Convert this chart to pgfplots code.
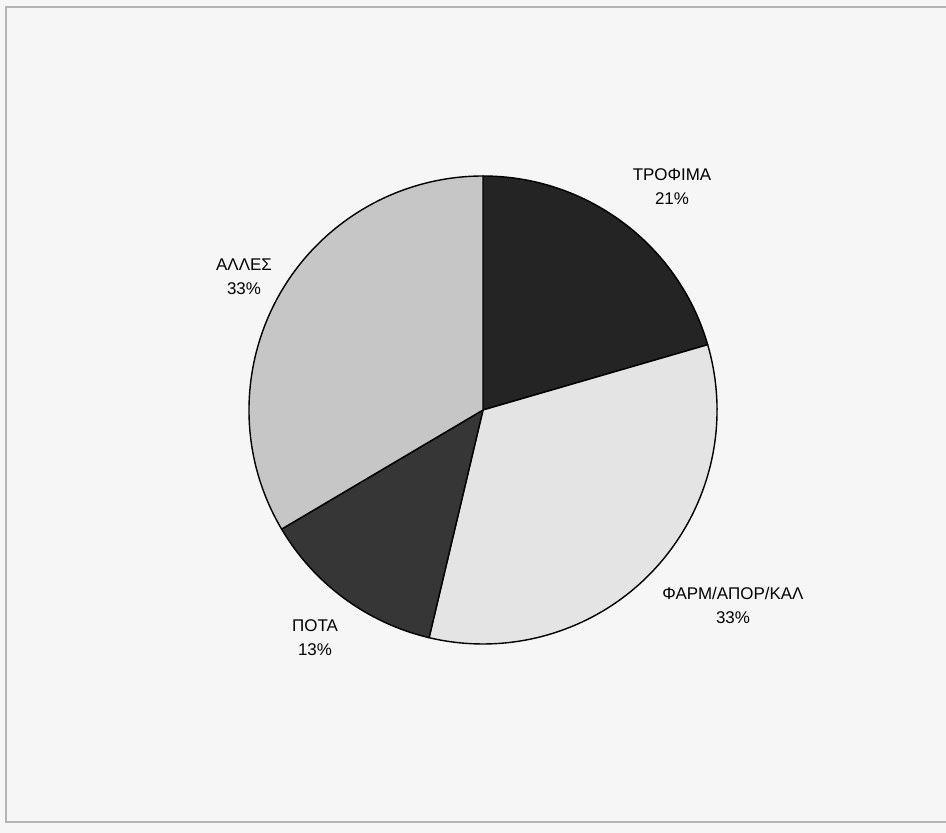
\documentclass[border=0pt]{standalone}
\usepackage{pgfplots}
\pgfplotsset{compat=1.18}
\usepackage{pgfplotstable}
\usepackage{fontspec}
\setmainfont{Liberation Sans}
\definecolor{bg}{HTML}{F6F6F6}
\definecolor{frame}{HTML}{B4B4B4}
\definecolor{cA}{HTML}{242424}
\definecolor{cB}{HTML}{E4E4E4}
\definecolor{cC}{HTML}{363636}
\definecolor{cD}{HTML}{C6C6C6}
\pgfplotstableread[col sep=comma]{
label,value,pct,col,lx,ly
ΤΡΟΦΙΜΑ,20.5,21,cA,672,187
ΦΑΡΜ/ΑΠΟΡ/ΚΑΛ,33.2,33,cB,733,605
ΠΟΤΑ,12.8,13,cC,315,638
ΑΛΛΕΣ,33.5,33,cD,244,277
}\piedata
\begin{document}
\begin{tikzpicture}
\begin{axis}[
  width=946bp, height=833bp, scale only axis,
  xmin=0, xmax=946, ymin=0, ymax=833,
  hide axis,
]
\fill[bg] (axis cs:0,0) rectangle (axis cs:946,833);
\draw[frame, line width=1.3bp] (axis cs:946,826) -- (axis cs:6,826) -- (axis cs:6,11) -- (axis cs:946,11);
\def\angA{90}
\pgfplotsforeachungrouped \i in {0,...,3}{%
  \pgfplotstablegetelem{\i}{value}\of\piedata \let\slv\pgfplotsretval
  \pgfplotstablegetelem{\i}{col}\of\piedata \let\slcol\pgfplotsretval
  \pgfplotstablegetelem{\i}{label}\of\piedata \let\sllab\pgfplotsretval
  \pgfplotstablegetelem{\i}{pct}\of\piedata \let\slpct\pgfplotsretval
  \pgfplotstablegetelem{\i}{lx}\of\piedata \let\sllx\pgfplotsretval
  \pgfplotstablegetelem{\i}{ly}\of\piedata \let\slly\pgfplotsretval
  \pgfmathsetmacro\angB{\angA - 3.6*\slv}
  \pgfmathsetmacro\slyy{833-\slly}
  \edef\temp{%
    \noexpand\filldraw[fill=\slcol, draw=black, line width=1.4bp, line join=round]
      (axis cs:483,423) -- ++(\angA:234bp) arc[start angle=\angA, end angle=\angB, radius=234bp] -- cycle;
    \noexpand\node[align=center, font=\noexpand\fontsize{17}{24}\noexpand\selectfont, text=black]
      at (axis cs:\sllx,\slyy) {\sllab\noexpand\\\slpct\noexpand\%};
  }%
  \temp
  \global\let\angA\angB
}
\end{axis}
\end{tikzpicture}
\end{document}
